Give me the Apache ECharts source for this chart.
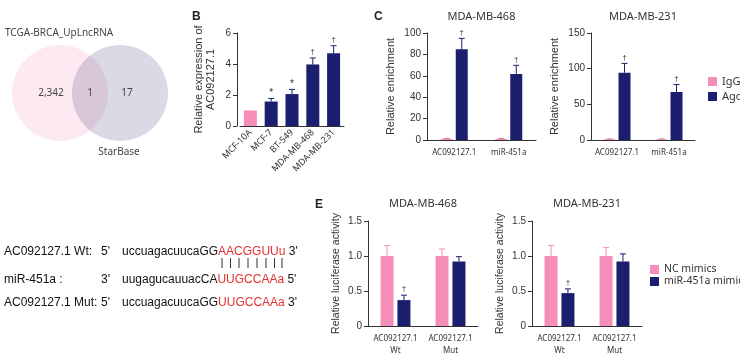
<!DOCTYPE html>
<html><head><meta charset="utf-8">
<script src="https://cdn.jsdelivr.net/npm/echarts@6.0.0/dist/echarts.min.js"></script>
<style>html,body{margin:0;padding:0;background:#fff}#c{width:740px;height:357px}</style>
</head><body><div id="c"></div>
<script>
// ---------- DATA ----------
const vennSets = ['TCGA-BRCA_UpLncRNA', 'StarBase'];
const vennCounts = ['2,342', '1', '17'];

const bCategories = ['MCF-10A', 'MCF-7', 'BT-549', 'MDA-MB-468', 'MDA-MB-231'];
const bValues = [1.0, 1.58, 2.06, 3.97, 4.7];
const bErrors = [0, 0.2, 0.3, 0.42, 0.48];
const bMarks = ['', '*', '*', '†', '†'];
const bTicks = [0, 2, 4, 6];

const cellLines = ['MDA-MB-468', 'MDA-MB-231'];
const cCategories = ['AC092127.1', 'miR-451a'];
const cSeriesNames = ['IgG', 'Ago2'];
const c468IgG = [1, 1];
const c468IgGErr = [0.5, 0.5];
const c468Ago2 = [84.8, 61.7];
const c468Ago2Err = [10.2, 8.1];
const c231IgG = [1, 1];
const c231IgGErr = [0.5, 0.5];
const c231Ago2 = [94.4, 67.3];
const c231Ago2Err = [13, 10.5];
const cMarks = ['†', '†'];
const c468Ticks = [0, 20, 40, 60, 80, 100];
const c231Ticks = [0, 50, 100, 150];

const eCategories = ['AC092127.1\nWt', 'AC092127.1\nMut'];
const eSeriesNames = ['NC mimics', 'miR-451a mimics'];
const e468NC = [1.0, 1.0];
const e468NCErr = [0.15, 0.10];
const e468Mimic = [0.37, 0.92];
const e468MimicErr = [0.07, 0.07];
const e231NC = [1.0, 1.0];
const e231NCErr = [0.15, 0.12];
const e231Mimic = [0.47, 0.92];
const e231MimicErr = [0.06, 0.11];
const eMarks = ['†', ''];
const eTicks = [0, 0.5, 1.0, 1.5];

const seqLabels = ['AC092127.1 Wt:', 'miR-451a :', 'AC092127.1 Mut:'];
const seqEnds = [["5'", "3'"], ["3'", "5'"], ["5'", "3'"]];
const seqBlack = ['uccuagacuucaGG', 'uugagucauuacCA', 'uccuagacuucaGG'];
const seqRed = ['AACGGUUu', 'UUGCCAAa', 'UUGCCAAa'];

// ---------- STYLE ----------
const PINK = '#F78DB9', NAVY = '#1C1F6E', AX = '#333';
const FONT = '"Liberation Sans", Arial, sans-serif';
const NFONT = '"Noto Sans", sans-serif';

const grids = [
  {left: 240, top: 33, width: 104, height: 93},   // B
  {left: 427, top: 33, width: 109, height: 107},  // C 468
  {left: 591, top: 33, width: 104, height: 107},  // C 231
  {left: 368, top: 221, width: 110, height: 106}, // E 468
  {left: 532, top: 221, width: 110, height: 106}  // E 231
];

function catAxis(gi, data, extra) {
  return Object.assign({
    type: 'category', gridIndex: gi, data: data,
    axisLine: {lineStyle: {color: AX, width: 1}},
    axisTick: {alignWithLabel: true, length: 3, lineStyle: {color: AX}},
    axisLabel: {fontSize: 8, color: '#333', fontFamily: NFONT, margin: 7, interval: 0, lineHeight: 12}
  }, extra || {});
}
function valAxis(gi, ticks, name, nameGap, extra) {
  return Object.assign({
    type: 'value', gridIndex: gi, min: ticks[0], max: ticks[ticks.length - 1],
    interval: ticks[1] - ticks[0],
    name: name, nameLocation: 'middle', nameGap: nameGap,
    nameTextStyle: {fontSize: 11, color: '#333', fontFamily: FONT, lineHeight: 12},
    axisLine: {show: true, lineStyle: {color: AX, width: 1}},
    axisTick: {show: true, length: 4, lineStyle: {color: AX}},
    splitLine: {show: false},
    axisLabel: {fontSize: 10, color: '#333', fontFamily: FONT, margin: 6}
  }, extra || {});
}

function errSeries(ai, vals, errs, marks, offset, color, markSize) {
  return {
    type: 'custom', xAxisIndex: ai, yAxisIndex: ai, z: 5, silent: true,
    encode: {x: 0, y: 1},
    data: vals.map((v, i) => [i, v, errs[i]]),
    renderItem: function (params, api) {
      const i = api.value(0), v = api.value(1), e = api.value(2);
      const base = api.coord([i, v]);
      const top = api.coord([i, v + e]);
      const x = base[0] + offset;
      const ch = [];
      if (e > 0) {
        ch.push({type: 'line', shape: {x1: x, y1: base[1], x2: x, y2: top[1]}, style: {stroke: color, lineWidth: 1}});
        ch.push({type: 'line', shape: {x1: x - 3, y1: top[1], x2: x + 3, y2: top[1]}, style: {stroke: color, lineWidth: 1}});
      }
      const m = marks ? marks[params.dataIndex] : '';
      if (m) {
        ch.push({type: 'text', style: {text: m, x: x, y: top[1] - (m === '*' ? 0 : 2), align: 'center', verticalAlign: 'bottom',
          fontSize: m === '*' ? markSize + 2 : markSize, fontFamily: FONT, fill: '#333'}});
      }
      return {type: 'group', children: ch};
    }
  };
}

const cW = 12, cGap = 0.25, eW = 13, eGap = 0.3;
const cOff = (cW + cW * cGap) / 2, eOff = (eW + eW * eGap) / 2;

const eFmt = v => (v === 0 ? '0' : v.toFixed(1));

const xAxis = [
  catAxis(0, bCategories, {axisLabel: {fontSize: 9, color: '#333', fontFamily: NFONT, rotate: 45, margin: 5, interval: 0}}),
  catAxis(1, cCategories),
  catAxis(2, cCategories),
  catAxis(3, eCategories),
  catAxis(4, eCategories)
];
const yAxis = [
  valAxis(0, bTicks, 'Relative expression of\nAC092127.1', 20, {offset: 3}),
  valAxis(1, c468Ticks, 'Relative enrichment', 30),
  valAxis(2, c231Ticks, 'Relative enrichment', 30),
  valAxis(3, eTicks, 'Relative luciferase activity', 26, {axisLabel: {fontSize: 10, color: '#333', fontFamily: FONT, margin: 6, formatter: eFmt}}),
  valAxis(4, eTicks, 'Relative luciferase activity', 26, {axisLabel: {fontSize: 10, color: '#333', fontFamily: FONT, margin: 6, formatter: eFmt}})
];
yAxis[3].nameTextStyle.fontSize = 10.5;
yAxis[4].nameTextStyle.fontSize = 10.5;

function bar(ai, name, data, w, gap, color) {
  return {type: 'bar', name: name, xAxisIndex: ai, yAxisIndex: ai, data: data, barWidth: w, barGap: (gap * 100) + '%',
    itemStyle: {color: color}, silent: true};
}

const series = [
  {type: 'bar', xAxisIndex: 0, yAxisIndex: 0, barWidth: 13, silent: true,
    data: bValues.map((v, i) => ({value: v, itemStyle: {color: i === 0 ? PINK : NAVY}}))},
  errSeries(0, bValues, bErrors, bMarks, 0, NAVY, 8),

  bar(1, cSeriesNames[0], c468IgG, cW, cGap, PINK),
  bar(1, cSeriesNames[1], c468Ago2, cW, cGap, NAVY),
  errSeries(1, c468IgG, c468IgGErr, null, -cOff, '#c07a90', 8),
  errSeries(1, c468Ago2, c468Ago2Err, cMarks, cOff, NAVY, 8),

  bar(2, cSeriesNames[0], c231IgG, cW, cGap, PINK),
  bar(2, cSeriesNames[1], c231Ago2, cW, cGap, NAVY),
  errSeries(2, c231IgG, c231IgGErr, null, -cOff, '#c07a90', 8),
  errSeries(2, c231Ago2, c231Ago2Err, cMarks, cOff, NAVY, 8),

  bar(3, eSeriesNames[0], e468NC, eW, eGap, PINK),
  bar(3, eSeriesNames[1], e468Mimic, eW, eGap, NAVY),
  errSeries(3, e468NC, e468NCErr, null, -eOff, PINK, 8),
  errSeries(3, e468Mimic, e468MimicErr, eMarks, eOff, NAVY, 8),

  bar(4, eSeriesNames[0], e231NC, eW, eGap, PINK),
  bar(4, eSeriesNames[1], e231Mimic, eW, eGap, NAVY),
  errSeries(4, e231NC, e231NCErr, null, -eOff, PINK, 8),
  errSeries(4, e231Mimic, e231MimicErr, eMarks, eOff, NAVY, 8)
];

const legend = [
  {data: cSeriesNames, left: 703, top: 71, orient: 'vertical', icon: 'rect', itemWidth: 9, itemHeight: 9, itemGap: 4,
    textStyle: {fontSize: 11, color: '#333', fontFamily: NFONT}, selectedMode: false},
  {data: eSeriesNames, left: 645, top: 259, orient: 'vertical', icon: 'rect', itemWidth: 9, itemHeight: 9, itemGap: 1,
    textStyle: {fontSize: 10.5, color: '#333', fontFamily: NFONT}, selectedMode: false}
];

// ---------- GRAPHIC (Venn, panel letters, titles, sequences) ----------
const g = [];
g.push({type: 'circle', shape: {cx: 60, cy: 93, r: 48}, style: {fill: '#fde9f1'}});
g.push({type: 'circle', shape: {cx: 120, cy: 93, r: 48}, style: {fill: '#dadae6', blend: 'multiply'}});
const vTxt = (t, x, y, al) => ({type: 'text', x: x, y: y, style: {text: t, align: al || 'center', verticalAlign: 'middle', fontSize: 10, fontFamily: NFONT, fill: '#444'}});
g.push(vTxt(vennSets[0], 5, 33, 'left'));
g.push(vTxt(vennSets[1], 119, 152));
g.push(vTxt(vennCounts[0], 51, 93));
g.push(vTxt(vennCounts[1], 90, 93));
g.push(vTxt(vennCounts[2], 127, 93));

const letter = (t, x, y) => ({type: 'text', x: x, y: y, style: {text: t, align: 'left', verticalAlign: 'middle', fontSize: 12, fontWeight: 'bold', fontFamily: FONT, fill: '#222'}});
g.push(letter('B', 192, 17));
g.push(letter('C', 374, 17));
g.push(letter('E', 315, 205));

const title = (t, gi, y) => ({type: 'text', x: grids[gi].left + grids[gi].width / 2, y: y,
  style: {text: t, align: 'center', verticalAlign: 'middle', fontSize: 11, fontFamily: NFONT, fill: '#333'}});
g.push(title(cellLines[0], 1, 17));
g.push(title(cellLines[1], 2, 17));
g.push(title(cellLines[0], 3, 204));
g.push(title(cellLines[1], 4, 204));

const rowY = [252, 280, 303];
for (let r = 0; r < 3; r++) {
  const st = {fontSize: 12, fontFamily: FONT, fill: '#111', verticalAlign: 'middle'};
  g.push({type: 'text', x: 4, y: rowY[r], style: Object.assign({text: seqLabels[r], align: 'left'}, st)});
  g.push({type: 'text', x: 101, y: rowY[r], style: Object.assign({text: seqEnds[r][0], align: 'left'}, st)});
  g.push({type: 'text', x: 122, y: rowY[r], style: Object.assign({
    text: '{k|' + seqBlack[r] + '}{r|' + seqRed[r] + '}{k| ' + seqEnds[r][1] + '}', align: 'left',
    rich: {k: {fontSize: 12, fontFamily: FONT, fill: '#111'}, r: {fontSize: 12, fontFamily: FONT, fill: '#e53030'}}
  }, st)});
}
const pairX = [222, 230.5, 239, 248, 257, 266, 274.5, 282];
pairX.forEach(x => g.push({type: 'line', shape: {x1: x, y1: 258, x2: x, y2: 268}, style: {stroke: '#333', lineWidth: 1}}));

const option = {
  animation: false,
  textStyle: {fontFamily: FONT},
  grid: grids,
  xAxis: xAxis,
  yAxis: yAxis,
  legend: legend,
  series: series,
  graphic: g
};
const chart = echarts.init(document.getElementById('c'), null, {renderer: 'canvas'});
chart.setOption(option);
</script></body></html>
